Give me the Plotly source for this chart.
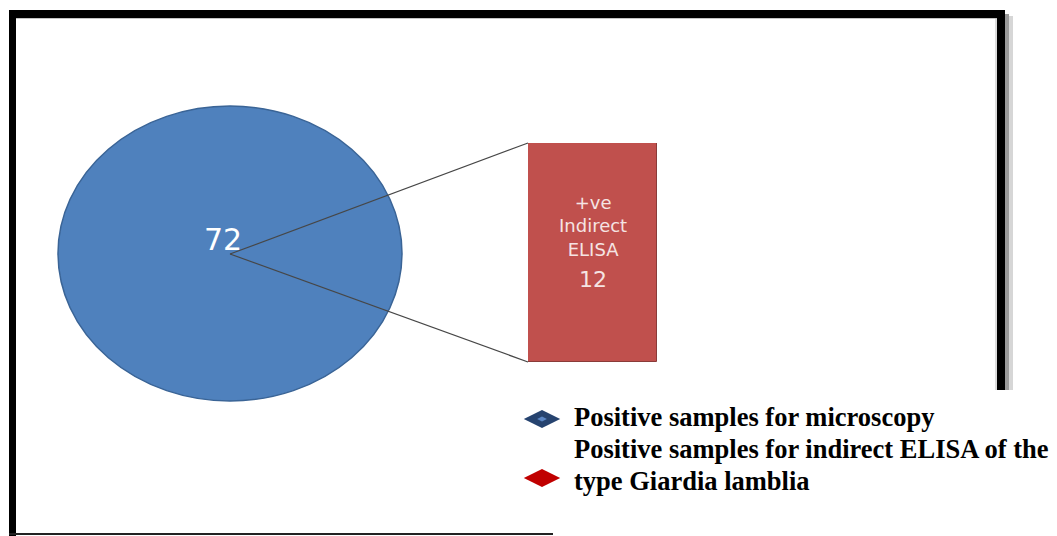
import plotly.graph_objects as go

# ---- data ----
categories = ["Positive samples for microscopy",
              "Positive samples for indirect ELISA of the type Giardia lamblia"]
values = [72, 12]
bar_label_lines = ["+ve", "Indirect", "ELISA"]
legend_lines = [["Positive samples for microscopy"],
                ["Positive samples for indirect ELISA of the", "type Giardia lamblia"]]
colors = ["#4F81BD", "#C0504D"]
legend_colors = ["#26436F", "#C00000"]

W, H = 1057, 536
fig = go.Figure()

# bar of the sub-set (12) drawn through its own axis
fig.add_trace(go.Bar(
    x=[0], y=[values[1]], width=[1],
    marker=dict(color=colors[1], line=dict(color="#8A3B39", width=1)),
    xaxis="x2", yaxis="y2", showlegend=False, hoverinfo="skip"))

# legend markers (manual legend)
leg_y = [419, 478]
for i, c in enumerate(legend_colors):
    fig.add_trace(go.Scatter(
        x=[542], y=[leg_y[i]], mode="markers",
        marker=dict(symbol="diamond-wide", size=26, color=c, line=dict(width=0)),
        showlegend=False, hoverinfo="skip"))
fig.add_trace(go.Scatter(
    x=[542], y=[leg_y[0]], mode="markers",
    marker=dict(symbol="diamond-wide", size=7, color="#5B86C4", line=dict(width=0)),
    showlegend=False, hoverinfo="skip"))

shapes = []
# frame
shapes += [
    dict(type="rect", xref="x", yref="y", x0=1005, x1=1009, y0=14, y1=390, fillcolor="#9A9A9A", line_width=0, layer="below"),
    dict(type="rect", xref="x", yref="y", x0=1009, x1=1013, y0=16, y1=390, fillcolor="#D6D6D6", line_width=0, layer="below"),
    dict(type="rect", xref="x", yref="y", x0=9, x1=1005, y0=10, y1=18, fillcolor="#000000", line_width=0),
    dict(type="rect", xref="x", yref="y", x0=9, x1=16, y0=10, y1=536, fillcolor="#000000", line_width=0),
    dict(type="rect", xref="x", yref="y", x0=997, x1=1005, y0=10, y1=390, fillcolor="#000000", line_width=0),
    dict(type="line", xref="x", yref="y", x0=16, x1=997, y0=18.5, y1=18.5, line=dict(color="#C4C4C4", width=1)),
    dict(type="line", xref="x", yref="y", x0=996, x1=996, y0=18, y1=390, line=dict(color="#B8B8B8", width=1)),
    dict(type="line", xref="x", yref="y", x0=9, x1=553, y0=534, y1=534, line=dict(color="#222222", width=2)),
]
# the whole (72) as an ellipse
cx, cy = 230, 254
shapes.append(dict(type="circle", xref="x", yref="y", x0=58, x1=402, y0=106, y1=401,
                   fillcolor=colors[0], line=dict(color="#3A6496", width=1.5), layer="below"))
# connector lines to the bar's left corners
bx0, by0, by1 = 528, 143, 362
shapes += [
    dict(type="line", xref="x", yref="y", x0=cx, y0=cy, x1=bx0, y1=by0, line=dict(color="#474747", width=1.2)),
    dict(type="line", xref="x", yref="y", x0=cx, y0=cy, x1=bx0, y1=by1, line=dict(color="#474747", width=1.2)),
]

annotations = []
annotations.append(dict(x=223, y=239, xref="x", yref="y", text=str(values[0]), showarrow=False,
                        font=dict(family="DejaVu Sans", size=30, color="#FFFFFF")))
annotations.append(dict(x=593, y=226, xref="x", yref="y", text="<br>".join(bar_label_lines),
                        showarrow=False, align="center", yanchor="middle",
                        font=dict(family="DejaVu Sans", size=18, color="#F5E4E3")))
annotations.append(dict(x=593, y=279, xref="x", yref="y", text=str(values[1]), showarrow=False,
                        font=dict(family="DejaVu Sans", size=22, color="#F5E4E3")))
leg_text_y = [[417], [449, 481]]
for lines, ys in zip(legend_lines, leg_text_y):
    for t, yy in zip(lines, ys):
        annotations.append(dict(x=572, y=yy, xref="x", yref="y", text="<b>" + t + "</b>",
                                showarrow=False, xanchor="left", yanchor="middle",
                                font=dict(family="Liberation Serif", size=26.5, color="#000000")))

fig.update_layout(
    width=W, height=H, margin=dict(l=0, r=0, t=0, b=0),
    paper_bgcolor="white", plot_bgcolor="rgba(0,0,0,0)",
    xaxis=dict(range=[0, W], domain=[0, 1], visible=False, fixedrange=True),
    yaxis=dict(range=[H, 0], domain=[0, 1], visible=False, fixedrange=True),
    xaxis2=dict(range=[-0.5, 0.5], domain=[528 / W, 657 / W], anchor="y2", visible=False),
    yaxis2=dict(range=[0, values[1]], domain=[1 - 362 / H, 1 - 143 / H], anchor="x2", visible=False),
    bargap=0, shapes=shapes, annotations=annotations, showlegend=False,
)
fig.write_html("out.html", config={"displayModeBar": False},
               post_script="document.body.style.margin='0';document.body.style.overflow='hidden';")
